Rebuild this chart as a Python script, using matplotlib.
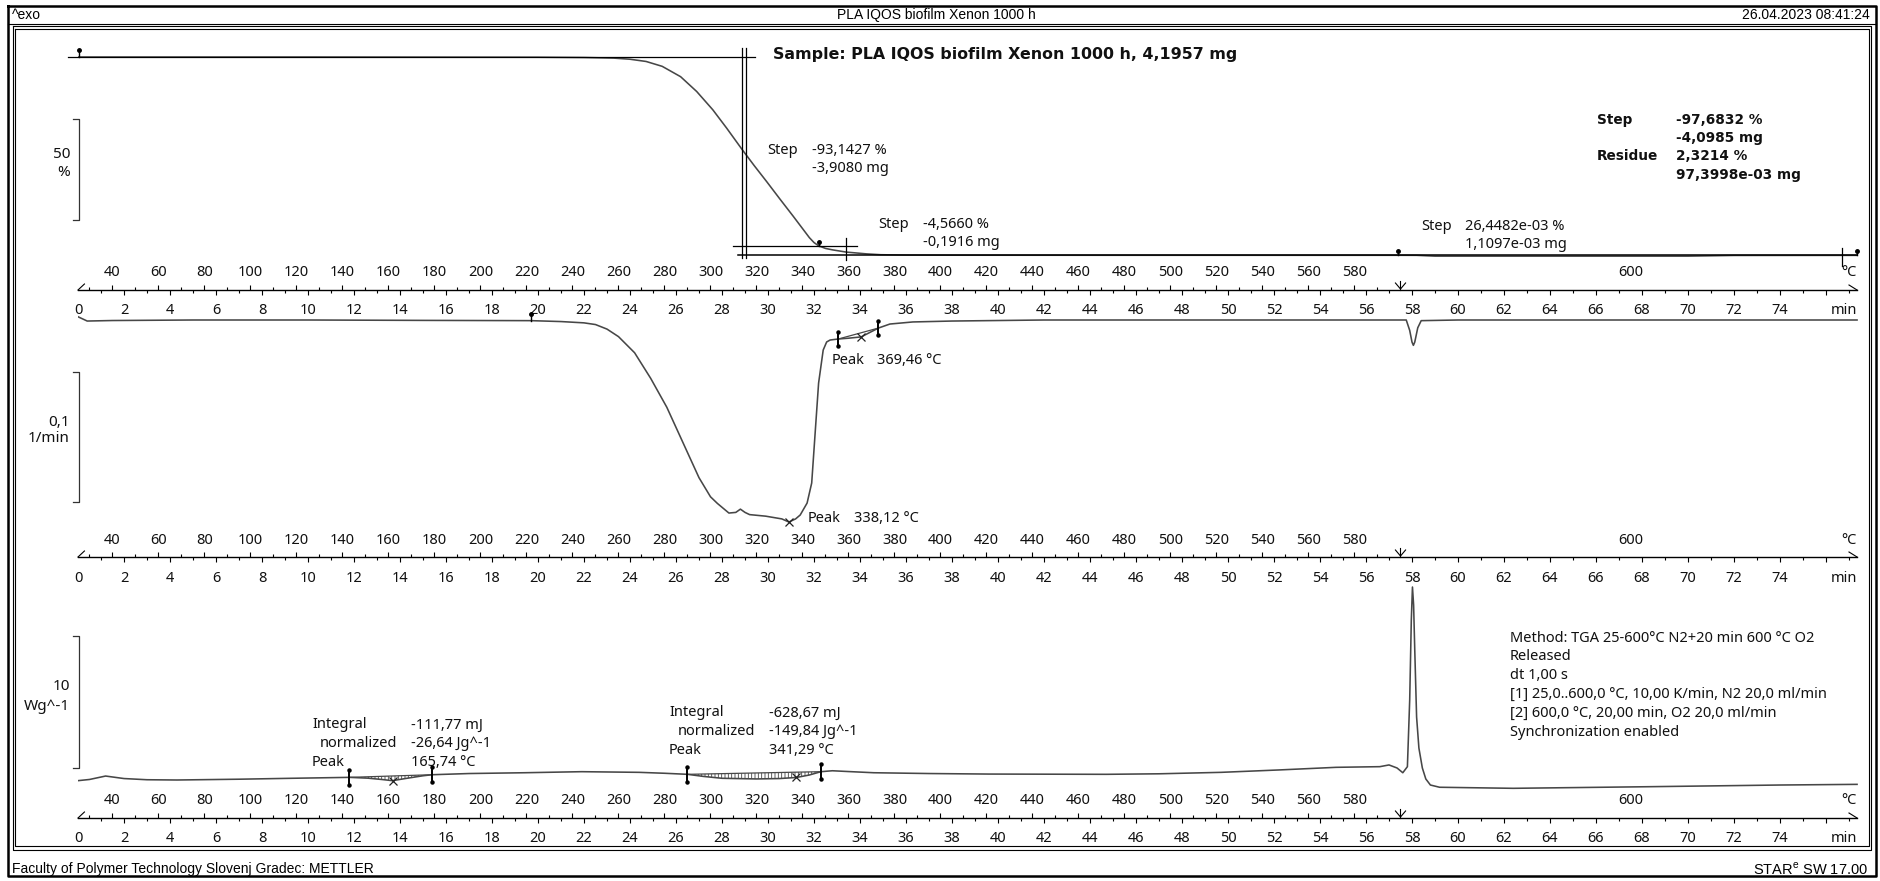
import numpy as np
import matplotlib.pyplot as plt
from matplotlib.transforms import blended_transform_factory as blend

W, H = 1881, 881
BODY = ['Noto Sans', 'DejaVu Sans']
HEAD = ['Liberation Sans', 'DejaVu Sans']
BOLD = ['DejaVu Sans']
plt.rcParams['font.family'] = BODY
plt.rcParams['hatch.linewidth'] = 0.6

# temperature program: 25..600 C at 10 K/min (N2), then 20 min at 600 C (O2)
T0, RATE, T1, T_ISO = 25.0, 10.0, 600.0, 20.0
T_LAG = 4.0          # sample temperature runs a few K above the program
T_END = 77.35        # end of the recorded curves, min
T_AXIS = 77.5

# TGA, % of initial mass
tga_t = [0.0, 10.0, 20.0, 22.0, 23.3, 24.0, 24.7, 25.4, 26.2, 26.9, 27.6, 28.2,
         28.87, 29.4, 29.95, 30.5, 31.1, 31.5, 31.8, 32.0, 32.2, 32.5, 32.8, 33.4,
         34.3, 34.9, 36.0, 38.0, 45.0, 57.5, 58.2, 59.0, 70.0, 72.0, 77.35]
tga_w = [100.0, 100.0, 99.9, 99.75, 99.45, 98.9, 97.8, 95.4, 90.3, 83.0, 74.0, 65.0,
         54.5, 46.5, 38.5, 30.3, 21.5, 15.5, 11.0, 8.6, 7.0, 5.7, 5.0, 3.9,
         3.0, 2.6, 2.42, 2.36, 2.33, 2.32, 2.30, 1.9, 1.9, 2.25, 2.29]

# DTG, 1/min
dtg_t = [0.0, 0.4, 1.5, 5.0, 10.0, 15.0, 19.7, 21.0, 22.0, 22.5, 23.0, 23.5, 24.2,
         24.9, 25.6, 26.3, 27.0, 27.5, 27.8, 28.3, 28.6, 28.8, 29.0, 29.2, 29.9,
         30.6, 30.91, 31.2, 31.4, 31.7, 31.9, 32.05, 32.2, 32.4, 32.55, 32.7,
         33.06, 33.5, 34.05, 34.8, 35.3, 36.3, 38.0, 42.0, 57.75, 57.9, 58.0,
         58.06, 58.12, 58.25, 58.4, 60.0, 77.35]
dtg_v = [0.0025, -0.0008, -0.0004, 0.0, 0.0, -0.0003, -0.0005, -0.0012, -0.0022,
         -0.0035, -0.007, -0.0128, -0.0252, -0.0449, -0.0671, -0.0942, -0.1213,
         -0.136, -0.1411, -0.1485, -0.148, -0.1455, -0.148, -0.1497, -0.1509,
         -0.153, -0.1554, -0.153, -0.150, -0.1408, -0.1254, -0.0869, -0.0485,
         -0.0231, -0.0169, -0.0154, -0.0146, -0.0140, -0.0130, -0.0062, -0.0031,
         -0.0015, -0.0008, 0.0, 0.0, -0.008, -0.017, -0.0195, -0.017, -0.006,
         -0.0005, 0.0, 0.0]

# DSC heat flow, W/g (exo up)
dsc_t = [0.0, 0.5, 1.2, 2.0, 3.0, 4.3, 7.0, 9.3, 11.8, 12.6, 13.2, 13.67, 14.3,
         15.0, 15.4, 17.0, 19.4, 21.9, 24.4, 25.5, 26.5, 27.2, 28.0, 29.5, 30.5,
         31.23, 31.8, 32.3, 32.8, 33.5, 34.6, 37.0, 39.6, 44.7, 47.0, 49.7, 52.2,
         54.7, 56.6, 57.0, 57.35, 57.6, 57.8, 57.9, 57.97, 58.02, 58.07, 58.12,
         58.2, 58.3, 58.45, 58.6, 58.8, 59.2, 62.4, 68.2, 74.0, 77.35]
dsc_v = [-0.05, 0.04, 0.30, 0.11, 0.02, 0.0, 0.06, 0.13, 0.20, 0.14, 0.04, -0.05,
         0.13, 0.32, 0.40, 0.49, 0.55, 0.63, 0.58, 0.51, 0.43, 0.27, 0.13, 0.08,
         0.11, 0.19, 0.38, 0.63, 0.70, 0.64, 0.55, 0.49, 0.45, 0.43, 0.47, 0.58,
         0.76, 0.96, 1.01, 1.14, 0.91, 0.55, 1.01, 6.06, 12.12, 14.62, 13.26,
         9.85, 4.77, 2.42, 0.91, 0.08, -0.38, -0.55, -0.63, -0.51, -0.38, -0.33]

temp_labels = list(range(40, 600, 20))
time_labels = list(range(0, 76, 2))

# evaluation results
step_pct = [-93.1427, -4.5660, 26.4482e-3]
step_mg = ['-3,9080 mg', '-0,1916 mg', '1,1097e-03 mg']
step_txt = ['-93,1427 %', '-4,5660 %', '26,4482e-03 %']
total_txt = [('Step', '-97,6832 %'), ('', '-4,0985 mg'),
             ('Residue', '2,3214 %'), ('', '97,3998e-03 mg')]
residue_pct = 2.3214
dtg_peaks = [338.12, 369.46]
dsc_limits = [(11.8, 15.4), (26.5, 32.3)]
dsc_peaks = [165.74, 341.29]
dsc_int = [('-111,77 mJ', '-26,64 Jg^-1'), ('-628,67 mJ', '-149,84 Jg^-1')]
method = ['Method: TGA 25-600°C N2+20 min 600 °C O2', 'Released', 'dt 1,00 s',
          '[1] 25,0..600,0 °C, 10,00 K/min, N2 20,0 ml/min',
          '[2] 600,0 °C, 20,00 min, O2 20,0 ml/min', 'Synchronization enabled']


def t_prog(T):
    return (T - T0) / RATE


def t_samp(T):
    return (T - T_LAG - T0) / RATE


CURVE = '#474747'
CLW = 1.15
X0, PPM = 78, 23.0   # px of t=0, px per minute

fig = plt.figure(figsize=(W / 100, H / 100), dpi=100)
fr = fig.add_axes([0, 0, 1, 1])
fr.set_xlim(0, W)
fr.set_ylim(H, 0)
fr.axis('off')


def panel(top, bot, ref_px, ref_val, ppu):
    ax = fig.add_axes([X0 / W, 1 - bot / H, T_AXIS * PPM / W, (bot - top) / H])
    ax.set_xlim(0, T_AXIS)
    ax.set_ylim(ref_val - (bot - ref_px) / ppu, ref_val + (ref_px - top) / ppu)
    ax.axis('off')
    ax.patch.set_alpha(0)
    return ax


def time_axis(ax, y):
    tr = blend(ax.transData, fr.transData)
    kw = dict(transform=tr, clip_on=False, color='k')
    ax.plot([0, T_END], [y, y], lw=1.0, **kw)
    ax.plot([0, 0.28], [y, y - 6], lw=0.8, **kw)
    ax.plot([T_END - 0.35, T_END], [y - 5, y], lw=0.8, **kw)
    tc = [t_prog(T) for T in range(30, 600, 10)]
    th = [5 if T % 20 == 0 else 3 for T in range(30, 600, 10)]
    ax.vlines(tc, y, [y - h for h in th], lw=0.8, **kw)
    mm = list(range(1, 78))
    ax.vlines(mm, y, [y + (5 if m % 2 == 0 else 3) for m in mm], lw=0.8, **kw)
    ta = t_prog(T1)
    ax.plot([ta - 0.22, ta, ta + 0.22], [y - 7, y - 1, y - 7], lw=0.8, **kw)
    ax.plot([ta, ta], [y - 9, y], lw=0.8, **kw)
    tk = dict(transform=tr, ha='center', va='center', fontsize=10.5, color='#111')
    for T in temp_labels:
        ax.text(t_prog(T), y - 17, str(T), **tk)
    ax.text(ta + T_ISO / 2, y - 17, '600', **tk)
    for m in time_labels:
        ax.text(m, y + 21, str(m), **tk)
    tk['ha'] = 'right'
    ax.text(T_END, y - 17, '°C', **tk)
    ax.text(T_END, y + 21, 'min', **tk)


def bracket(ax, top_val, span, lines, ly):
    tr = blend(fr.transData, ax.transData)
    ax.plot([73, 79, 79, 73], [top_val, top_val, top_val - span, top_val - span],
            transform=tr, clip_on=False, color='#333', lw=0.9)
    for s, yy in zip(lines, ly):
        fr.text(70, yy, s, ha='right', va='center', fontsize=11, color='#111')


def flag(ax, t, v, h):
    ax.plot([t, t], [v, v + h], color='k', lw=1.0, clip_on=False)
    ax.plot([t], [v + h], marker='o', ms=2.5, color='k', clip_on=False)


def limit(ax, t, v, h):
    ax.plot([t, t], [v - h, v + h], color='k', lw=1.4, clip_on=False)
    ax.plot([t, t], [v - h, v + h], ls='none', marker='o', ms=2.2, color='k',
            clip_on=False)


def txt(x, y, s, **kw):
    kw.setdefault('fontsize', 10.5)
    fr.text(x, y, s, ha=kw.pop('ha', 'left'), va='center', color='#111', **kw)


# frame, header, footer
fr.plot([8, 1876, 1876, 8, 8], [6, 6, 876, 876, 6], color='k', lw=1.8)
fr.plot([8, 1876], [24, 24], color='k', lw=0.8)
fr.plot([12.5, 1871, 1871, 12.5, 12.5], [26, 26, 850, 850, 26], color='k', lw=0.8)
fr.plot([15, 1868.5, 1868.5, 15, 15], [28.5, 28.5, 846, 846, 28.5], color='k', lw=0.8)
fr.text(12, 15, '^exo', ha='left', va='center', fontsize=10, family=HEAD)
fr.text(936, 15, 'PLA IQOS biofilm Xenon 1000 h', ha='center', va='center',
        fontsize=10, family=HEAD)
fr.text(1870, 15, '26.04.2023 08:41:24', ha='right', va='center', fontsize=10,
        family=HEAD)
fr.text(12, 869, 'Faculty of Polymer Technology Slovenj Gradec: METTLER',
        ha='left', va='center', fontsize=10, family=HEAD)
fr.text(1868, 869, 'STAR$^\\mathregular{e}$ SW 17.00', ha='right', va='center',
        fontsize=10.5, family=HEAD)

# ---- TGA
ax1 = panel(30, 300, 57, 100.0, 2.03)
ax1.plot(tga_t, tga_w, color=CURVE, lw=CLW)
lvl1 = 100 + step_pct[0]
lvl2 = lvl1 + step_pct[1]
ax1.plot([-0.43, 29.43], [100, 100], color='k', lw=0.9, clip_on=False)
for tv in (28.88, 29.05):
    ax1.plot([tv, tv], [104.4, 1.0], color='k', lw=0.9)
ax1.plot([28.5, 33.85], [lvl1, lvl1], color='k', lw=0.9)
ax1.plot([33.4, 33.4], [10.8, 0.0], color='k', lw=0.9)
ax1.plot([28.7, T_END], [lvl2, lvl2], color='k', lw=1.1)
ax1.plot([76.7, 76.7], [5.9, -3.0], color='k', lw=0.9)
flag(ax1, 0.05, 100, 3.5)
flag(ax1, 32.2, lvl1, 2.2)
flag(ax1, t_prog(T1) - 0.1, lvl2, 2.2)
flag(ax1, T_END, lvl2, 2.2)
time_axis(ax1, 290)
bracket(ax1, 69.5, 50, ['50', '%'], [155, 172])

txt(773, 55, 'Sample: PLA IQOS biofilm Xenon 1000 h, 4,1957 mg', fontsize=11.4,
    fontweight='bold', family=BOLD)
for (xs, xv, y), s, m in zip([(767, 812, 150), (878, 923, 225), (1421, 1465, 226)],
                             step_txt, step_mg):
    txt(xs, y, 'Step')
    txt(xv, y, s)
    txt(xv, y + 18, m)
for (lab, val), y in zip(total_txt, [120, 138, 156, 175]):
    if lab:
        txt(1597, y, lab, fontweight='bold', family=BOLD, fontsize=9.8)
    txt(1676, y, val, fontweight='bold', family=BOLD, fontsize=9.8)

# ---- DTG
ax2 = panel(300, 560, 320, 0.0, 1300.0)
ax2.plot(dtg_t, dtg_v, color=CURVE, lw=CLW)
flag(ax2, 19.7, np.interp(19.7, dtg_t, dtg_v), 0.005)
la, lb = 33.06, 34.8
va_, vb_ = np.interp([la, lb], dtg_t, dtg_v)
ax2.plot([la, lb], [va_, vb_], color=CURVE, lw=0.9)
limit(ax2, la, va_, 0.0052)
limit(ax2, lb, vb_, 0.0052)
for T in dtg_peaks:
    tp = t_samp(T)
    ax2.plot([tp], [np.interp(tp, dtg_t, dtg_v)], marker='x', ms=6, mew=0.9,
             color='#222')
time_axis(ax2, 557)
bracket(ax2, -0.04, 0.1, ['0,1', '1/min'], [422, 439])
txt(832, 361, 'Peak')
txt(877, 361, '369,46 °C')
txt(808, 519, 'Peak')
txt(854, 519, '338,12 °C')

# ---- DSC
ax3 = panel(560, 846, 780, 0.0, 13.2)
ax3.plot(dsc_t, dsc_v, color=CURVE, lw=CLW)
for (ta, tb), T in zip(dsc_limits, dsc_peaks):
    ya, yb = np.interp([ta, tb], dsc_t, dsc_v)
    tt = [ta] + [t for t in dsc_t if ta < t < tb] + [tb]
    base = np.interp(tt, [ta, tb], [ya, yb])
    curv = np.interp(tt, dsc_t, dsc_v)
    ax3.plot([ta, tb], [ya, yb], color=CURVE, lw=0.9)
    ax3.fill_between(tt, base, curv, facecolor='none', edgecolor='#444',
                     hatch='|||||', lw=0)
    limit(ax3, ta, ya, 0.55)
    limit(ax3, tb, yb, 0.55)
    tp = t_samp(T)
    ax3.plot([tp], [np.interp(tp, dsc_t, dsc_v)], marker='x', ms=6, mew=0.9,
             color='#222')
time_axis(ax3, 818)
bracket(ax3, 10.9, 10, ['10', 'Wg^-1'], [687, 707])

for (x_l, x_n, x_v, y0), (mj, jg), T in zip([(312, 320, 411, 725), (669, 678, 769, 713)],
                                            dsc_int, dsc_peaks):
    txt(x_l, y0, 'Integral')
    txt(x_n, y0 + 18.5, 'normalized')
    txt(x_l, y0 + 37, 'Peak')
    txt(x_v, y0, mj)
    txt(x_v, y0 + 18.5, jg)
    txt(x_v, y0 + 37, f'{T:.2f} °C'.replace('.', ','))

for i, s in enumerate(method):
    txt(1510, 638 + i * 18.8, s)

fig.savefig('out.png', dpi=100)
